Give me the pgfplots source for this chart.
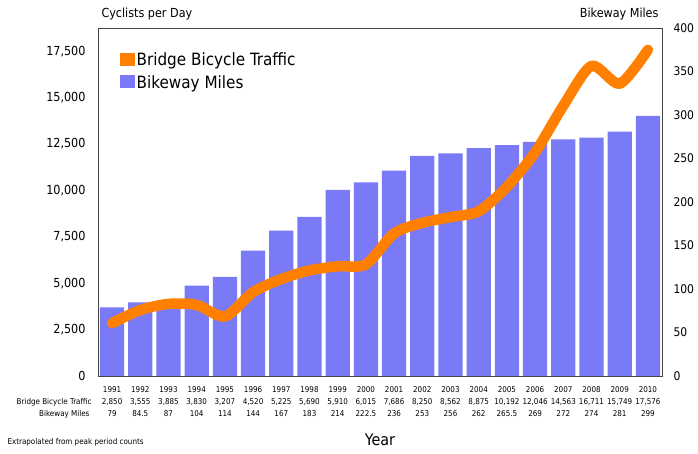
\documentclass[border=0pt]{standalone}
\usepackage{pgfplots}
\pgfplotsset{compat=1.18}
\usepackage{fontspec}
\setmainfont{DejaVu Sans Condensed}
\definecolor{barblue}{RGB}{122,122,247}
\definecolor{lineorange}{RGB}{255,128,0}
\definecolor{framegray}{RGB}{70,70,70}
\begin{document}
\begin{tikzpicture}
\path[use as bounding box] (-98bp,-78bp) rectangle (600bp,376bp);
% bars, right axis (miles)
\begin{axis}[
  at={(0,0)}, anchor=south west,
  scale only axis, width=564bp, height=348bp,
  xmin=0.5, xmax=20.5, ymin=0, ymax=400,
  axis line style={draw=framegray},
  major tick length=0,
  ytick={0,50,...,400},
  yticklabel pos=right,
  yticklabel style={font=\fontsize{12}{14}\selectfont, xshift=8bp},
  xtick={1,...,20},
  xticklabels={
    {1991\\2,850\\79},{1992\\3,555\\84.5},{1993\\3,885\\87},{1994\\3,830\\104},
    {1995\\3,207\\114},{1996\\4,520\\144},{1997\\5,225\\167},{1998\\5,690\\183},
    {1999\\5,910\\214},{2000\\6,015\\222.5},{2001\\7,686\\236},{2002\\8,250\\253},
    {2003\\8,562\\256},{2004\\8,875\\262},{2005\\10,192\\265.5},{2006\\12,046\\269},
    {2007\\14,563\\272},{2008\\16,711\\274},{2009\\15,749\\281},{2010\\17,576\\299}},
  xticklabel style={align=center, font=\fontsize{8}{12}\selectfont, yshift=-7bp},
  /pgf/number format/assume math mode=true,
]
\addplot[ybar, bar width=0.86, fill=barblue, draw=none] coordinates {
  (1,79) (2,84.5) (3,87) (4,104) (5,114) (6,144) (7,167) (8,183) (9,214) (10,222.5)
  (11,236) (12,253) (13,256) (14,262) (15,265.5) (16,269) (17,272) (18,274) (19,281) (20,299)
};
\end{axis}
% line, left axis (cyclists per day)
\begin{axis}[
  at={(0,0)}, anchor=south west,
  scale only axis, width=564bp, height=348bp,
  xmin=0.5, xmax=20.5, ymin=0, ymax=18750,
  axis line style={draw=framegray},
  major tick length=0,
  xtick=\empty,
  ytick={0,2500,...,17500},
  yticklabel pos=left,
  yticklabel style={font=\fontsize{12.5}{14}\selectfont, xshift=-9bp,
    /pgf/number format/.cd, fixed, 1000 sep={,}},
  scaled y ticks=false,
  /pgf/number format/assume math mode=true,
  legend style={at={(rel axis cs:0.038,0.935)}, anchor=north west, draw=none, fill=none,
    font=\fontsize{17}{19}\selectfont, row sep=4bp, inner sep=0pt},
  legend cell align=left,
  legend image code/.code={\fill[#1] (0bp,-6bp) rectangle (15bp,7bp);},
]
\addplot[lineorange, line width=10.5bp, smooth, tension=0.45, line cap=round, line join=round, forget plot]
  coordinates {
  (1,2850) (2,3555) (3,3885) (4,3830) (5,3207) (6,4520) (7,5225) (8,5690) (9,5910) (10,6015)
  (11,7686) (12,8250) (13,8562) (14,8875) (15,10192) (16,12046) (17,14563) (18,16711) (19,15749) (20,17576)
};
\addlegendimage{fill=lineorange, draw=none}
\addlegendentry{Bridge Bicycle Traffic}
\addlegendimage{fill=barblue, draw=none}
\addlegendentry{Bikeway Miles}
\end{axis}
\node[anchor=east, font=\fontsize{8}{10}\selectfont] at (-3bp,-26bp) {Bridge Bicycle Traffic};
\node[anchor=east, font=\fontsize{8}{10}\selectfont] at (-5bp,-38bp) {Bikeway Miles};
\node[anchor=west, font=\fontsize{12.5}{14}\selectfont] at (0bp,362bp) {Cyclists per Day};
\node[anchor=east, font=\fontsize{12.5}{14}\selectfont] at (564bp,362bp) {Bikeway Miles};
\node[font=\fontsize{16}{18}\selectfont] at (282bp,-64bp) {Year};
\node[anchor=west, font=\fontsize{8}{10}\selectfont] at (-94bp,-66bp) {Extrapolated from peak period counts};
\end{tikzpicture}
\end{document}
